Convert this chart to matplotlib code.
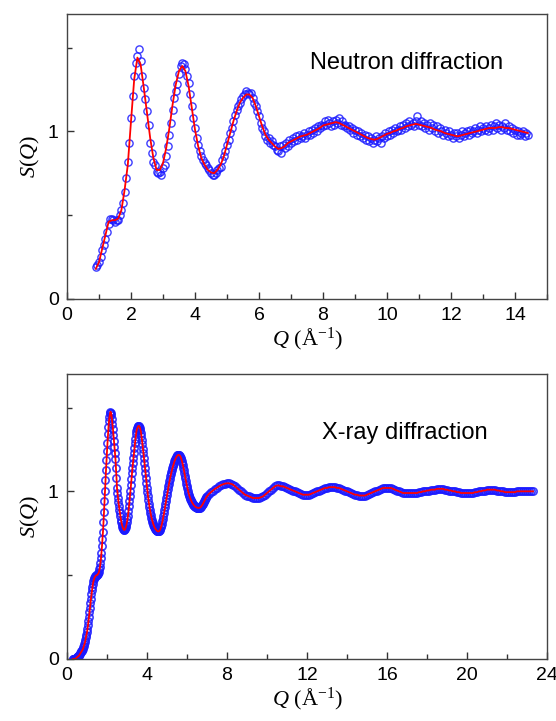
import numpy as np
import matplotlib
matplotlib.use("Agg")
import matplotlib.pyplot as plt
from matplotlib.ticker import MultipleLocator

plt.rcParams["font.family"] = ["Liberation Sans", "DejaVu Sans"]
plt.rcParams["mathtext.fontset"] = "custom"
plt.rcParams["mathtext.rm"] = "Liberation Serif"
plt.rcParams["mathtext.it"] = "Liberation Serif:italic"

# neutron data, Q = 0.90 ... 14.40 step 0.05
neutron_q = np.round(np.arange(0.90, 14.401, 0.05), 2)
neutron_s = [
    0.19, 0.20, 0.22, 0.25, 0.29, 0.32, 0.36, 0.40, 0.45, 0.48,
    0.48, 0.47, 0.46, 0.47, 0.47, 0.50, 0.53, 0.57, 0.64, 0.72,
    0.82, 0.93, 1.08, 1.21, 1.33, 1.41, 1.45, 1.49, 1.42, 1.33,
    1.26, 1.19, 1.12, 1.04, 0.93, 0.87, 0.82, 0.80, 0.76, 0.75,
    0.76, 0.74, 0.78, 0.80, 0.85, 0.91, 0.98, 1.05, 1.13, 1.20,
    1.24, 1.28, 1.34, 1.39, 1.41, 1.40, 1.37, 1.33, 1.29, 1.22,
    1.15, 1.08, 1.02, 0.96, 0.92, 0.88, 0.85, 0.83, 0.81, 0.80,
    0.78, 0.77, 0.75, 0.74, 0.74, 0.75, 0.77, 0.78, 0.79, 0.83,
    0.85, 0.88, 0.92, 0.95, 0.99, 1.02, 1.06, 1.10, 1.13, 1.15,
    1.17, 1.19, 1.21, 1.22, 1.24, 1.23, 1.22, 1.23, 1.20, 1.17,
    1.15, 1.12, 1.09, 1.05, 1.02, 1.00, 0.97, 0.95, 0.96, 0.93,
    0.94, 0.92, 0.91, 0.89, 0.88, 0.91, 0.87, 0.92, 0.90, 0.93,
    0.91, 0.95, 0.93, 0.96, 0.94, 0.97, 0.95, 0.98, 0.96, 0.97,
    0.99, 0.96, 0.98, 1.00, 0.98, 1.01, 0.99, 1.02, 1.00, 1.03,
    1.02, 1.04, 1.03, 1.06, 1.04, 1.07, 1.05, 1.03, 1.06, 1.04,
    1.07, 1.05, 1.08, 1.04, 1.06, 1.03, 1.04, 1.02, 1.03, 1.01,
    1.02, 0.99, 1.01, 0.98, 1.00, 0.97, 0.99, 0.96, 0.98, 0.95,
    0.97, 0.94, 0.96, 0.93, 0.95, 0.97, 0.94, 0.96, 0.93, 0.97,
    0.96, 0.99, 0.97, 1.00, 0.98, 1.01, 0.99, 1.02, 1.00, 1.01,
    1.03, 1.01, 1.04, 1.02, 1.05, 1.03, 1.06, 1.04, 1.05, 1.03,
    1.06, 1.09, 1.04, 1.06, 1.03, 1.05, 1.02, 1.04, 1.01, 1.05,
    1.02, 1.04, 1.00, 1.03, 0.99, 1.02, 1.00, 0.98, 1.01, 0.99,
    0.97, 1.00, 0.98, 0.96, 0.99, 0.97, 0.99, 0.96, 0.98, 1.00,
    0.97, 0.99, 1.00, 0.98, 1.01, 0.99, 1.00, 1.02, 0.99, 1.01,
    1.03, 1.00, 1.02, 1.01, 1.03, 1.00, 1.02, 1.04, 1.01, 1.03,
    1.05, 1.02, 1.04, 1.01, 1.03, 1.02, 1.05, 1.01, 1.03, 1.00,
    1.02, 0.99, 1.01, 0.98, 1.00, 0.98, 0.99, 1.00, 0.97, 0.99,
    0.98,
]

# neutron fit, Q = 0.9 ... 14.4 step 0.1
neutron_fit_q = np.round(np.arange(0.9, 14.401, 0.1), 1)
neutron_fit = [
    0.18, 0.22, 0.30, 0.38, 0.46, 0.47, 0.47, 0.48, 0.53, 0.65,
    0.80, 1.06, 1.31, 1.44, 1.40, 1.26, 1.11, 0.96, 0.84, 0.77,
    0.77, 0.81, 0.90, 1.02, 1.16, 1.28, 1.36, 1.39, 1.36, 1.27,
    1.14, 1.01, 0.91, 0.84, 0.80, 0.77, 0.755, 0.75, 0.77, 0.80,
    0.85, 0.92, 0.99, 1.06, 1.12, 1.17, 1.20, 1.22, 1.22, 1.20,
    1.15, 1.09, 1.03, 0.98, 0.95, 0.93, 0.91, 0.895, 0.90, 0.91,
    0.93, 0.94, 0.95, 0.96, 0.97, 0.975, 0.98, 0.99, 1.00, 1.01,
    1.02, 1.035, 1.04, 1.045, 1.05, 1.055, 1.05, 1.04, 1.03, 1.02,
    1.01, 1.00, 0.99, 0.98, 0.97, 0.96, 0.955, 0.95, 0.955, 0.965,
    0.975, 0.985, 0.99, 1.00, 1.005, 1.015, 1.02, 1.03, 1.035, 1.04,
    1.045, 1.04, 1.035, 1.03, 1.025, 1.02, 1.01, 1.005, 1.00, 0.99,
    0.985, 0.98, 0.975, 0.97, 0.975, 0.98, 0.985, 0.99, 0.995, 1.00,
    1.005, 1.01, 1.015, 1.02, 1.02, 1.02, 1.025, 1.025, 1.02, 1.02,
    1.015, 1.01, 1.005, 1.00, 0.995, 0.99,
]

# x-ray data: Q = 0.300 ... 6.975 step 0.025, then 7.0 ... 23.3 step 0.1
xray_q_low = np.round(np.arange(0.300, 6.976, 0.025), 3)
xray_s_low = [
    0.000, 0.000, 0.000, 0.000, 0.000, 0.002, 0.005, 0.008,
    0.010, 0.013, 0.015, 0.018, 0.020, 0.025, 0.030, 0.035,
    0.040, 0.045, 0.050, 0.055, 0.060, 0.070, 0.080, 0.090,
    0.100, 0.115, 0.130, 0.145, 0.160, 0.180, 0.200, 0.225,
    0.250, 0.280, 0.305, 0.335, 0.360, 0.385, 0.410, 0.430,
    0.450, 0.465, 0.475, 0.485, 0.490, 0.495, 0.498, 0.500,
    0.500, 0.503, 0.507, 0.512, 0.520, 0.535, 0.550, 0.575,
    0.600, 0.635, 0.675, 0.715, 0.760, 0.815, 0.875, 0.940,
    1.000, 1.065, 1.125, 1.185, 1.240, 1.290, 1.340, 1.385,
    1.420, 1.445, 1.465, 1.475, 1.470, 1.455, 1.430, 1.400,
    1.370, 1.335, 1.300, 1.265, 1.230, 1.190, 1.140, 1.080,
    1.020, 0.990, 0.960, 0.935, 0.910, 0.890, 0.870, 0.850,
    0.830, 0.815, 0.800, 0.790, 0.780, 0.774, 0.770, 0.770,
    0.773, 0.780, 0.790, 0.802, 0.817, 0.835, 0.855, 0.880,
    0.910, 0.940, 0.975, 1.005, 1.040, 1.075, 1.110, 1.140,
    1.170, 1.200, 1.230, 1.260, 1.290, 1.315, 1.340, 1.360,
    1.370, 1.380, 1.387, 1.390, 1.390, 1.386, 1.378, 1.366,
    1.350, 1.330, 1.307, 1.282, 1.255, 1.227, 1.198, 1.168,
    1.138, 1.108, 1.078, 1.050, 1.022, 0.996, 0.971, 0.948,
    0.926, 0.906, 0.888, 0.871, 0.856, 0.843, 0.831, 0.820,
    0.810, 0.801, 0.793, 0.786, 0.780, 0.775, 0.771, 0.767,
    0.764, 0.762, 0.761, 0.761, 0.762, 0.765, 0.770, 0.777,
    0.786, 0.796, 0.808, 0.821, 0.836, 0.852, 0.869, 0.887,
    0.905, 0.923, 0.941, 0.959, 0.977, 0.995, 1.012, 1.029,
    1.045, 1.060, 1.075, 1.089, 1.102, 1.115, 1.128, 1.140,
    1.150, 1.160, 1.170, 1.179, 1.187, 1.194, 1.200, 1.205,
    1.211, 1.214, 1.216, 1.217, 1.217, 1.215, 1.212, 1.207,
    1.200, 1.191, 1.180, 1.168, 1.155, 1.140, 1.125, 1.109,
    1.093, 1.077, 1.061, 1.046, 1.031, 1.017, 1.004, 0.992,
    0.981, 0.971, 0.962, 0.954, 0.947, 0.940, 0.934, 0.929,
    0.924, 0.920, 0.916, 0.913, 0.910, 0.908, 0.906, 0.904,
    0.903, 0.902, 0.901, 0.901, 0.901, 0.902, 0.903, 0.905,
    0.908, 0.912, 0.916, 0.921, 0.926, 0.932, 0.938, 0.944,
    0.950, 0.956, 0.962, 0.967,
]
xray_q_high = np.round(np.arange(7.0, 23.301, 0.1), 1)
xray_s_high = [
    0.970, 0.985, 0.995, 1.005, 1.015, 1.022, 1.030, 1.037, 1.042, 1.046,
    1.048, 1.048, 1.045, 1.040, 1.030, 1.020, 1.010, 1.000, 0.990, 0.980,
    0.975, 0.970, 0.965, 0.960, 0.960, 0.960, 0.960, 0.965, 0.970, 0.980,
    0.990, 1.000, 1.010, 1.020, 1.030, 1.035, 1.035, 1.030, 1.030, 1.025,
    1.020, 1.015, 1.010, 1.005, 1.000, 0.995, 0.990, 0.985, 0.980, 0.980,
    0.980, 0.980, 0.985, 0.990, 0.995, 1.000, 1.005, 1.010, 1.015, 1.020,
    1.020, 1.025, 1.025, 1.025, 1.025, 1.020, 1.020, 1.015, 1.010, 1.005,
    1.000, 0.995, 0.990, 0.985, 0.980, 0.980, 0.975, 0.975, 0.975, 0.975,
    0.980, 0.985, 0.990, 0.995, 1.000, 1.005, 1.010, 1.015, 1.020, 1.020,
    1.020, 1.020, 1.020, 1.015, 1.010, 1.005, 1.000, 0.995, 0.990, 0.990,
    0.990, 0.990, 0.990, 0.990, 0.990, 0.990, 0.995, 0.995, 1.000, 1.000,
    1.005, 1.005, 1.010, 1.010, 1.010, 1.015, 1.015, 1.015, 1.015, 1.010,
    1.010, 1.005, 1.005, 1.000, 1.000, 0.995, 0.995, 0.990, 0.990, 0.990,
    0.990, 0.990, 0.990, 0.990, 0.995, 0.995, 1.000, 1.000, 1.005, 1.005,
    1.010, 1.010, 1.010, 1.010, 1.010, 1.005, 1.005, 1.000, 1.000, 0.995,
    0.995, 0.995, 0.995, 0.995, 0.995, 1.000, 1.000, 1.000, 1.000, 1.000,
    1.000, 1.000, 1.000, 1.000,
]
xray_q = np.concatenate([xray_q_low, xray_q_high])
xray_s = np.concatenate([xray_s_low, xray_s_high])
# the x-ray fit sits on top of the data
xray_fit = xray_s

fig = plt.figure(figsize=(5.56, 7.21), dpi=100)
ax1 = fig.add_axes([0.1205, 0.5853, 0.8633, 0.3953])
ax2 = fig.add_axes([0.1205, 0.0860, 0.8633, 0.3953])

blue = "#1a1aff"
for ax, q, s, fq, fs, mew in [
    (ax1, neutron_q, neutron_s, neutron_fit_q, neutron_fit, 1.0),
    (ax2, xray_q, xray_s, xray_q, xray_fit, 1.2),
]:
    ax.plot(q, s, "o", mfc="none", mec=blue, mew=mew, ms=5.2, alpha=0.85)
    ax.plot(fq, fs, "-", color="#ff0000", lw=1.3)
    ax.set_ylim(0, 1.7)
    ax.yaxis.set_major_locator(MultipleLocator(1))
    ax.yaxis.set_minor_locator(MultipleLocator(0.5))
    ax.tick_params(which="both", direction="in", top=False, right=False,
                   labelsize=14, color="#333333", pad=6)
    ax.tick_params(which="major", length=5, width=1)
    ax.tick_params(which="minor", length=3.5, width=1)
    for sp in ax.spines.values():
        sp.set_color("#444444")
        sp.set_linewidth(1.0)
    ax.set_ylabel(r"$S(Q)$", fontsize=16, family="Liberation Serif", labelpad=4)
    ax.set_xlabel(r"$Q$ (Å$^{-1}$)", fontsize=16, family="Liberation Serif", labelpad=1)

ax1.set_xlim(0, 15)
ax1.xaxis.set_major_locator(MultipleLocator(2))
ax1.xaxis.set_minor_locator(MultipleLocator(1))
ax1.text(10.6, 1.41, "Neutron diffraction", fontsize=17, ha="center", va="center")

ax2.set_xlim(0, 24)
ax2.xaxis.set_major_locator(MultipleLocator(4))
ax2.xaxis.set_minor_locator(MultipleLocator(2))
ax2.text(16.9, 1.35, "X-ray diffraction", fontsize=17, ha="center", va="center")

fig.savefig("out.png", dpi=100)
